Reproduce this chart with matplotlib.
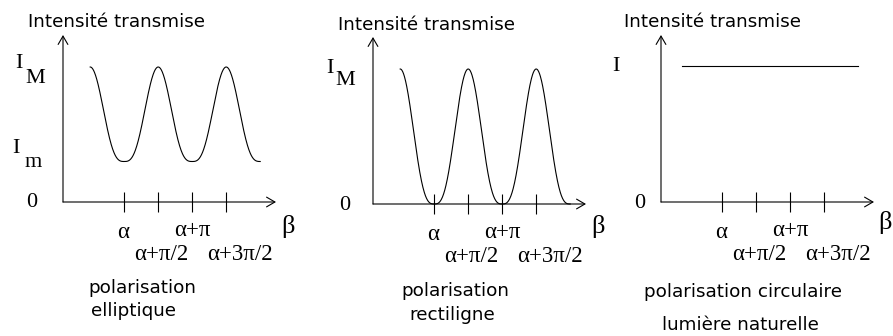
import numpy as np
import matplotlib
matplotlib.use("Agg")
import matplotlib.pyplot as plt

# Data
tick_steps = [0.0, 0.5, 1.0, 1.5]            # multiples of pi after alpha
tick_labels = ["α", "α+π/2", "α+π", "α+3π/2"]
alpha = 0.9 * np.pi                          # position of alpha on the beta axis
I_max = 1.0
I_min_ellip = 0.30
I_min_rect = 0.0
I_nat = 1.01
beta_wave = (alpha - np.pi / 2, alpha + 2 * np.pi)
beta_flat = (0.31 * np.pi, 2.9 * np.pi)
titles = ["Intensité transmise"] * 3
captions = [["polarisation", "elliptique"],
            ["polarisation", "rectiligne"],
            ["polarisation circulaire", "lumière naturelle"]]

# Figure setup
W, H = 893, 336
fig = plt.figure(figsize=(W / 100, H / 100), dpi=100)
UX = np.pi / 68      # beta units per pixel
UY = 1.0 / 135       # intensity units per pixel
SANS = "DejaVu Sans"
SERIF = "Liberation Serif"
LW = 0.8
FS_SANS = 13.2
FS_SERIF = 16
FS_BETA = 19


def panel(ox, oy):
    ax = fig.add_axes([(ox - 30) / W, (H - (oy + 30)) / H, 270 / W, 205 / H])
    ax.set_xlim(-30 * UX, 240 * UX)
    ax.set_ylim(-30 * UY, 175 * UY)
    ax.axis("off")
    arrow = dict(arrowstyle="->,head_length=0.6,head_width=0.35", lw=LW,
                 color="black", shrinkA=0, shrinkB=0)
    ax.annotate("", xy=(213 * UX, 0), xytext=(0, 0), arrowprops=arrow)
    ax.annotate("", xy=(0, 167 * UY), xytext=(0, 0), arrowprops=arrow)
    ticks = [alpha + s * np.pi for s in tick_steps]
    ax.vlines(ticks, -10 * UY, 10 * UY, color="black", lw=LW)
    return ax, ticks


def txt(ax, dx, dy, s, size, family, ha="center", va="baseline"):
    ax.text(dx * UX, dy * UY, s, fontsize=size, family=family, ha=ha, va=va)


def tick_text(ax, ticks):
    # alpha and alpha+pi on the upper row, the half steps below
    shifts = [-1, 3, 0, 14]
    dys = [-30, -52, -28, -52]
    for t, lab, sh, dy in zip(ticks, tick_labels, shifts, dys):
        ax.text(t + sh * UX, dy * UY, lab, fontsize=16.5, family=SERIF,
                ha="center", va="center")


def wave(I_lo):
    b = np.linspace(beta_wave[0], beta_wave[1], 600)
    return b, I_lo + (I_max - I_lo) * (np.sin(b - alpha) ** 2) ** 1.5


# Elliptic polarisation
ax, ticks = panel(63, 202)
b, I = wave(I_min_ellip)
ax.plot(b, I, color="black", lw=LW)
txt(ax, 54, 175, titles[0], FS_SANS, SANS)
txt(ax, -44.5, 134, "I", FS_SERIF, SERIF)
txt(ax, -28, 119, "M", FS_SERIF, SERIF)
txt(ax, -47, 49, "I", FS_SERIF, SERIF)
txt(ax, -29.5, 35, "m", FS_SERIF, SERIF)
txt(ax, -31, -5, "0", FS_SERIF, SERIF)
txt(ax, 225, -24, "β", FS_BETA, SERIF, va="center")
tick_text(ax, ticks)
txt(ax, 79, -91, captions[0][0], FS_SANS, SANS)
txt(ax, 71, -114, captions[0][1], FS_SANS, SANS)

# Linear polarisation
ax, ticks = panel(373, 204)
b, I = wave(I_min_rect)
ax.plot(b, I, color="black", lw=LW)
txt(ax, 54, 174, titles[1], FS_SANS, SANS)
txt(ax, -43.5, 131, "I", FS_SERIF, SERIF)
txt(ax, -27.5, 119, "M", FS_SERIF, SERIF)
txt(ax, -28, -6, "0", FS_SERIF, SERIF)
txt(ax, 225, -22, "β", FS_BETA, SERIF, va="center")
tick_text(ax, ticks)
txt(ax, 82, -92, captions[1][0], FS_SANS, SANS)
txt(ax, 79.5, -116, captions[1][1], FS_SANS, SANS)

# Circular polarisation / natural light
ax, ticks = panel(661, 202)
ax.plot(list(beta_flat), [I_nat, I_nat], color="black", lw=LW)
txt(ax, 51, 175, titles[2], FS_SANS, SANS)
txt(ax, -45, 131, "I", FS_SERIF, SERIF)
txt(ax, -21, -6, "0", FS_SERIF, SERIF)
txt(ax, 224, -21, "β", FS_BETA, SERIF, va="center")
tick_text(ax, ticks)
txt(ax, 82.5, -95, captions[2][0], FS_SANS, SANS)
txt(ax, 79, -128, captions[2][1], FS_SANS, SANS)

fig.savefig("out.png", dpi=100, facecolor="white")
